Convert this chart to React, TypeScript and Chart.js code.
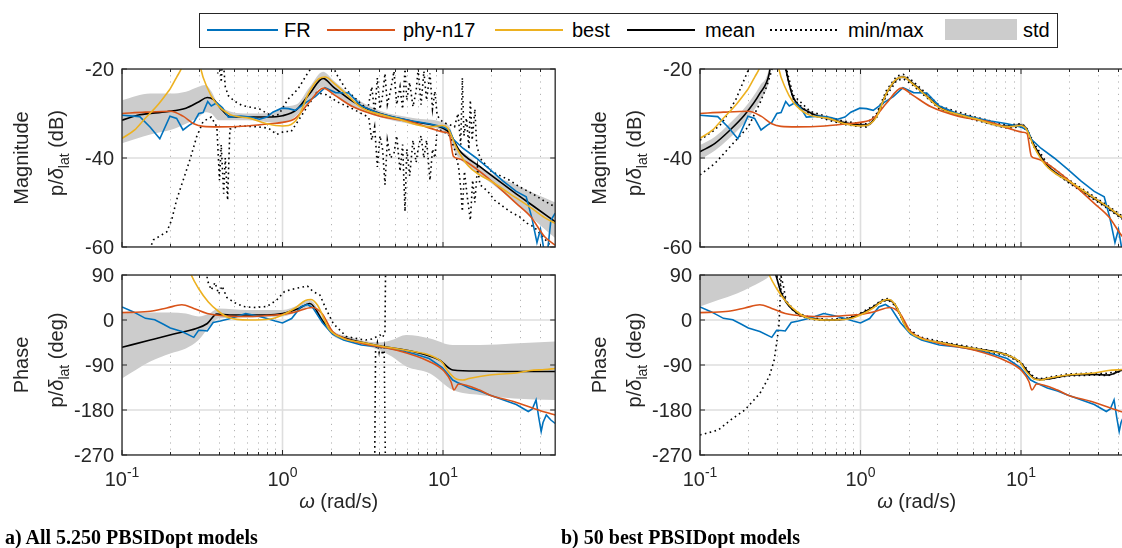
import React, { useEffect, useRef } from 'react';
import { Chart, registerables } from 'chart.js';

Chart.register(...registerables);

type P = [number, number];
type B = [number, number, number];

// ---------- axes / ticks ----------
const X_MIN = 0.1;
const X_MAX = 50;
const X_DECADES = [0.1, 1, 10];
const X_DECADE_EXP = ['-1', '0', '1'];
const X_MINOR_FACTORS = [2, 3, 4, 5, 6, 7, 8, 9];
const MAG_TICKS = [-20, -40, -60];
const PHASE_TICKS = [90, 0, -90, -180, -270];

// ---------- shared series (omega rad/s, value) ----------
const FR_MAG: P[] = [
  [0.1, -30.4], [0.129, -30.7], [0.15, -33.1], [0.172, -35.7], [0.199, -30.6], [0.219, -31.1], [0.24, -33.7],
  [0.263, -32.6], [0.28, -32], [0.301, -30], [0.32, -29.8], [0.342, -27.3], [0.36, -28.3], [0.39, -27.6],
  [0.423, -28.7], [0.46, -30.8], [0.55, -30.6], [0.63, -30.8], [0.72, -31.3], [0.8, -30.8], [0.87, -29.7],
  [0.99, -28.8], [1.09, -28.9], [1.2, -29.3], [1.39, -27.6], [1.6, -26.2], [1.84, -24.2], [2.14, -25.3],
  [2.59, -25.4], [3.1, -28.3], [4.0, -30], [5.07, -30.9], [6.45, -31.7], [8.2, -32.3], [9.94, -33],
  [11, -33.8], [11.6, -35.8], [13.3, -37.8], [16.1, -40], [19.5, -42.5], [23.7, -45.2], [28.6, -47.5],
  [33, -48.7], [35.8, -53.5], [38.5, -59], [40.5, -56], [42.5, -60.5], [44.8, -61], [47, -54], [50, -52.4],
];
const PHY_MAG: P[] = [
  [0.1, -30], [0.14, -29.7], [0.2, -29.5], [0.24, -30.6], [0.28, -32.3], [0.32, -32.9], [0.4, -33],
  [0.6, -32.8], [0.9, -32.2], [1.0, -32], [1.2, -31.1], [1.45, -27.7], [1.8, -24.3], [2.1, -25.8],
  [2.75, -28.5], [4.05, -30.6], [6.5, -32], [8.5, -33.4], [10.2, -34.2], [10.9, -34.5], [11.6, -39.6],
  [12.4, -40.1], [14, -40.9], [19.5, -44.8], [28.6, -50.2], [35.2, -53.2], [43, -57.7], [50, -59.6],
];
const BEST_MAG: P[] = [
  [0.1, -35.6], [0.12, -33.7], [0.137, -31.4], [0.153, -29.6], [0.167, -28.1], [0.19, -25.5], [0.2, -24.4],
  [0.22, -21.7], [0.236, -19.6], [0.265, -13], [0.29, -13], [0.31, -20], [0.34, -24.2], [0.38, -27.4],
  [0.47, -30.2], [0.63, -31.1], [0.8, -32.3], [1.0, -32.8], [1.09, -32.7], [1.26, -30.7], [1.45, -25.5],
  [1.68, -22.2], [1.85, -21.8], [2.08, -23.1], [2.47, -25.5], [3.14, -28.8], [4.05, -30.2], [5.07, -31.1],
  [8.2, -33], [9.94, -32.7], [10.7, -33.3], [12.1, -37.6], [14.3, -41.7], [16.9, -43.8], [19.5, -45],
  [26, -48], [34.7, -51], [43, -53.4], [50, -54.7],
];
const FR_PH: P[] = [
  [0.1, 26], [0.117, 16.7], [0.14, 3.3], [0.16, 0.5], [0.18, -8], [0.2, -16], [0.236, -23], [0.28, -34.7],
  [0.3, -20.5], [0.32, -21], [0.34, -22], [0.37, -5], [0.41, -2], [0.46, 2], [0.52, 7], [0.59, 13], [0.7, 8],
  [0.8, 3], [0.9, -2], [1.0, -6], [1.14, 3], [1.3, 26], [1.43, 31], [1.55, 24], [1.77, -5], [2.05, -28],
  [2.4, -40], [3.1, -50], [4.05, -54], [5.07, -59], [6.5, -67], [8.2, -77], [9.9, -95], [11.5, -120],
  [12.3, -125], [14.6, -136], [16.9, -142], [19.5, -150], [28.6, -169], [34, -183], [36, -178], [38, -160],
  [39.5, -195], [40.9, -223], [42, -205], [44, -190], [47, -200], [50, -207],
];
const PHY_PH: P[] = [
  [0.1, 14.7], [0.145, 17], [0.19, 24], [0.236, 30.5], [0.28, 23], [0.34, 13], [0.45, 8], [0.62, 7],
  [0.9, 10], [1.0, 11], [1.2, 16], [1.53, 25], [1.76, 13], [2.05, -23], [2.4, -36], [3.14, -47],
  [5.07, -60], [8.2, -83], [10.2, -103], [11.2, -123], [11.7, -140], [12.5, -128], [16.9, -140],
  [19.5, -150], [27.5, -163], [43, -184], [50, -190],
];
const BEST_PH: P[] = [
  [0.2, 220], [0.25, 120], [0.27, 90], [0.3, 63], [0.345, 36], [0.4, 17], [0.46, 5], [0.62, 0], [0.84, 2],
  [1.0, 10], [1.2, 24], [1.39, 39], [1.5, 41], [1.65, 30], [1.95, -18], [2.35, -36], [3.14, -45],
  [4.05, -52], [5.07, -57], [6.5, -63], [8.2, -70], [9.9, -85], [10.6, -100], [12.1, -118], [13.3, -120],
  [14.5, -117], [19.5, -110], [28.6, -106], [35, -101], [43, -99], [50, -97],
];

// ---------- a) all 5.250 models ----------
const MEAN_MAG_A: P[] = [
  [0.1, -31.5], [0.129, -30.3], [0.19, -29.6], [0.25, -28.8], [0.3, -27.4], [0.34, -26.4], [0.37, -26.8],
  [0.42, -29.2], [0.47, -30.7], [0.8, -30.8], [1.0, -30.5], [1.22, -29.2], [1.48, -25.5], [1.79, -22.1],
  [2.07, -24], [2.75, -27.3], [4.05, -30], [6.5, -31.8], [10, -33.3], [11, -34.4], [12.6, -38.2],
  [16.9, -41.9], [27.5, -47.6], [36.9, -50.9], [50, -54.3],
];
const STD_MAG_A: B[] = [
  [0.1, -36.7, -27], [0.15, -34.7, -25.5], [0.2, -33.7, -25.5], [0.25, -32.3, -25.1], [0.3, -30.8, -24],
  [0.33, -29.7, -23.6], [0.36, -30, -25], [0.4, -31.5, -28], [0.6, -31.5, -30], [0.9, -32, -29.7],
  [1.0, -32, -28.5], [1.22, -30.5, -28], [1.48, -27, -24], [1.79, -24, -20.6], [2.07, -25.5, -22.5],
  [2.75, -28.5, -26.2], [4, -30.8, -29.3], [6.5, -32.5, -31], [10, -34, -32], [11, -35.5, -33],
  [12, -39, -37], [14, -41.5, -39.2], [20, -45.7, -43.5], [30, -50.9, -46.4], [40, -55, -48.5], [50, -58, -50],
];
const MAX_MAG_A: P[] = [
  [0.1, -5], [0.36, -5], [0.385, -16], [0.395, -21], [0.405, -15], [0.415, -23], [0.425, -17], [0.44, -24],
  [0.46, -26], [0.5, -27.2], [0.56, -28.2], [0.72, -29], [0.86, -30.6], [0.95, -30.2], [1.08, -26.8],
  [1.25, -24.5], [1.43, -21], [1.55, -19.3], [1.8, -17], [2.0, -18.5], [2.2, -21.5], [2.5, -24.7],
  [3.06, -27.7], [3.4, -29], [3.6, -24], [3.75, -30], [3.9, -22], [4.05, -29], [4.2, -26], [4.35, -21],
  [4.5, -28], [4.7, -25], [4.95, -20.5], [5.15, -28], [5.4, -24], [5.6, -29], [5.8, -20], [5.95, -27],
  [6.2, -23], [6.5, -28.5], [6.8, -25], [7.0, -20], [7.3, -28], [7.6, -20.5], [7.9, -27], [8.1, -24],
  [8.3, -21], [8.6, -29], [8.9, -25], [9.2, -30.5], [10, -32], [11, -32.5], [11.8, -33], [12.4, -30],
  [12.9, -37], [13.2, -22], [13.5, -35], [14.0, -31], [14.5, -38], [14.8, -27], [15.2, -36], [15.8, -29],
  [16.2, -37], [17, -40], [20, -43], [26, -45], [30, -46.5], [36, -48], [42, -49.5], [50, -51],
];
const MIN_MAG_A: P[] = [
  [0.1, -75], [0.14, -63], [0.157, -58.4], [0.19, -56.6], [0.204, -53.9], [0.219, -49.4], [0.241, -44.9],
  [0.265, -40.4], [0.292, -35.2], [0.32, -31.8], [0.36, -30.8], [0.39, -33], [0.405, -45], [0.415, -37],
  [0.43, -48], [0.44, -40], [0.455, -49.5], [0.47, -33.5], [0.55, -32.8], [0.7, -33], [0.82, -33.3],
  [0.92, -34.7], [1.03, -34], [1.13, -34.1], [1.34, -30], [1.63, -25.3], [1.88, -25.8], [2.2, -27.4],
  [2.75, -29], [3.3, -30.5], [3.45, -31], [3.6, -36], [3.75, -33], [3.9, -42], [4.05, -35], [4.2, -38],
  [4.35, -46], [4.5, -36], [4.7, -40], [4.95, -39], [5.15, -35], [5.4, -43], [5.6, -37], [5.8, -52],
  [5.95, -38], [6.2, -44], [6.5, -36], [6.8, -41], [7.0, -38], [7.3, -35], [7.6, -40], [7.9, -36],
  [8.3, -45], [8.6, -38], [8.9, -40], [9.2, -33.5], [10, -34], [11, -35], [11.8, -38], [12.5, -42],
  [12.9, -47], [13.2, -52], [13.6, -43], [14.2, -49], [14.8, -54], [15.3, -45], [15.8, -50], [16.4, -42],
  [17, -46], [19, -47.5], [21, -49.5], [26, -52], [30, -53.2], [33.5, -54.7], [37, -55.5], [45, -59], [50, -61],
];
const MEAN_PH_A: P[] = [
  [0.1, -54.7], [0.15, -40], [0.21, -28], [0.29, -17], [0.34, -7], [0.39, 12], [0.47, 10], [0.8, 10],
  [1.0, 13], [1.26, 23], [1.48, 33], [1.79, -3], [2.07, -27], [2.5, -37], [4.05, -52], [6.5, -63],
  [9.5, -80], [11.5, -100], [16.9, -102], [27.5, -103], [50, -103],
];
const STD_PH_A: B[] = [
  [0.1, -117, 13], [0.15, -83, 15], [0.2, -67, 15], [0.25, -57, 13], [0.3, -40, 7], [0.35, -13, 13],
  [0.4, 3, 23], [0.6, 5, 20], [1.0, 7, 20], [1.26, 17, 30], [1.48, 27, 40], [1.79, -8, 3], [2.07, -32, -22],
  [2.5, -42, -32], [4, -60, -45], [4.8, -73, -40], [5.9, -93, -30], [8.3, -107, -37], [11.5, -140, -50],
  [17, -150, -50], [27.5, -157, -47], [50, -160, -43],
];
const MAX_PH_A: P[] = [
  [0.1, 150], [0.33, 150], [0.34, 80], [0.36, 60], [0.38, 75], [0.4, 52], [0.42, 68], [0.45, 45],
  [0.5, 35], [0.57, 27], [0.66, 25], [0.8, 27], [0.92, 40], [1.03, 57], [1.2, 63], [1.43, 68], [1.55, 57],
  [1.71, 50], [1.88, 20], [2.07, -7], [2.5, -33], [3.0, -38], [3.3, -40], [3.6, -38], [4.05, -30],
  [4.2, -35], [4.35, -25], [4.4, 150], [50, 150],
];
const MIN_PH_A: P[] = [
  [0.1, -300], [3.75, -300], [3.8, -60], [3.9, -45], [4.0, -65], [4.1, -50], [4.2, -70], [4.3, -55],
  [4.38, -300], [50, -300],
];

// ---------- b) 50 best models ----------
const MEAN_MAG_B: P[] = [
  [0.1, -38.6], [0.124, -36.7], [0.15, -34.1], [0.19, -30.3], [0.236, -25.5], [0.27, -21], [0.29, -13],
  [0.31, -12], [0.33, -17], [0.345, -20.5], [0.36, -23.5], [0.38, -26.3], [0.485, -29.8], [0.62, -31],
  [0.78, -32], [1.0, -32.6], [1.09, -32.6], [1.26, -30.5], [1.45, -25.5], [1.68, -22.3], [1.85, -21.8],
  [2.08, -23], [2.47, -25.4], [3.14, -28.7], [5.07, -31], [8.2, -32.9], [9.94, -32.6], [10.7, -33.2],
  [12.1, -37.2], [14.6, -41.7], [19.5, -45.1], [26, -48.1], [34.7, -51.1], [43, -53.5], [50, -55],
];
const STD_MAG_B: B[] = [
  [0.1, -40.4, -37.1], [0.124, -38.3, -35.2], [0.15, -35.8, -32.5], [0.19, -32, -28.7], [0.236, -27.2, -23.8],
  [0.27, -22.5, -19.5], [0.29, -15, -10], [0.31, -15, -10], [0.33, -17.8, -16.2], [0.345, -21.2, -19.8],
  [0.36, -24.1, -22.9], [0.38, -26.8, -25.8], [0.485, -30.2, -29.4], [0.62, -31.4, -30.6], [0.78, -32.4, -31.6],
  [1.0, -33, -32.2], [1.09, -33, -32.2], [1.26, -30.9, -30.1], [1.45, -25.9, -25.1], [1.68, -22.7, -21.9],
  [1.85, -22.2, -21.4], [2.08, -23.4, -22.6], [2.47, -25.8, -25], [3.14, -29.1, -28.3], [5.07, -31.4, -30.6],
  [8.2, -33.3, -32.5], [9.94, -33, -32.2], [10.7, -33.6, -32.8], [12.1, -37.6, -36.8], [14.6, -42.1, -41.3],
  [19.5, -45.5, -44.7], [26, -48.5, -47.7], [34.7, -51.5, -50.7], [43, -53.9, -53.1], [50, -55.4, -54.6],
];
const MAX_MAG_B: P[] = [
  [0.1, -36], [0.12, -34], [0.137, -32.2], [0.167, -26.9], [0.2, -20.2], [0.22, -15], [0.3, -10],
  [0.33, -16], [0.345, -19.8], [0.38, -25.8], [0.485, -29.5], [0.62, -30.7], [0.78, -31.7], [1.0, -32.3],
  [1.09, -32.3], [1.26, -30], [1.45, -24.8], [1.68, -21.6], [1.85, -21.2], [2.08, -22.5], [2.47, -24.9],
  [3.14, -28.4], [5.07, -30.7], [8.2, -32.6], [9.94, -32.3], [10.7, -32.9], [12.1, -36.8], [14.6, -41.3],
  [19.5, -44.7], [26, -47.7], [34.7, -50.7], [43, -53.1], [50, -54.6],
];
const MIN_MAG_B: P[] = [
  [0.1, -43.8], [0.124, -41.2], [0.15, -37.9], [0.2, -33], [0.236, -27.7], [0.26, -24], [0.28, -20.3],
  [0.3, -14], [0.32, -14], [0.345, -20.7], [0.38, -26.7], [0.485, -30.2], [0.62, -31.4], [0.78, -32.4],
  [1.0, -33], [1.09, -33], [1.26, -30.9], [1.45, -26], [1.68, -22.6], [1.85, -22.2], [2.08, -23.4],
  [2.47, -25.8], [3.14, -29.1], [5.07, -31.4], [8.2, -33.3], [9.94, -33], [10.7, -33.6], [12.1, -37.6],
  [14.6, -42], [19.5, -45.4], [26, -48.4], [34.7, -51.4], [43, -53.8], [50, -55.3],
];
const MEAN_PH_B: P[] = [
  [0.1, 170], [0.2, 150], [0.27, 125], [0.29, 100], [0.3, 85], [0.32, 55], [0.345, 35], [0.38, 20],
  [0.42, 10], [0.5, 3], [0.62, 0], [0.84, 3], [1.0, 12], [1.2, 26], [1.39, 39], [1.5, 40], [1.65, 29],
  [1.95, -17], [2.35, -36], [3.14, -45], [5.07, -57], [8.2, -70], [9.9, -85], [12.1, -117], [13.3, -119],
  [19.5, -111], [28.6, -109], [35, -110], [43, -100], [50, -98],
];
const STD_PH_B: B[] = [
  [0.1, 27, 250], [0.13, 40, 250], [0.17, 53, 250], [0.21, 67, 250], [0.26, 83, 250], [0.29, 95, 250],
  [0.3, 82, 90], [0.32, 52, 58], [0.345, 32, 38], [0.38, 18, 22], [0.42, 8, 12], [0.5, 1, 5], [0.62, -2, 2],
  [0.84, 1, 5], [1.0, 10, 14], [1.2, 24, 28], [1.39, 37, 41], [1.5, 38, 42], [1.65, 27, 31], [1.95, -19, -15],
  [2.35, -38, -34], [3.14, -47, -43], [5.07, -59, -55], [8.2, -72, -68], [9.9, -87, -83], [12.1, -119, -115],
  [13.3, -121, -117], [19.5, -113, -109], [28.6, -111, -107], [35, -112, -108], [43, -102, -98], [50, -100, -96],
];
const MAX_PH_B: P[] = [
  [0.1, 250], [0.3, 250], [0.31, 95], [0.32, 60], [0.345, 38], [0.38, 22], [0.42, 12], [0.5, 4],
  [0.62, 1], [0.84, 4], [1.0, 14], [1.2, 28], [1.39, 42], [1.5, 43], [1.65, 31], [1.95, -15],
  [2.35, -34], [3.14, -43], [5.07, -55], [8.2, -68], [9.9, -83], [12.1, -115], [13.3, -117], [19.5, -108],
  [28.6, -106], [35, -107], [43, -98], [50, -96],
];
const MIN_PH_B: P[] = [
  [0.1, -230], [0.13, -220], [0.155, -200], [0.19, -180], [0.236, -147], [0.27, -113], [0.29, -80],
  [0.3, -47], [0.31, -13], [0.315, 33], [0.32, 87], [0.33, 70], [0.345, 36], [0.38, 19], [0.42, 8],
  [0.5, 1], [0.62, -1], [0.84, 2], [1.0, 11], [1.2, 25], [1.39, 38], [1.5, 39], [1.65, 28], [1.95, -18],
  [2.35, -37], [3.14, -46], [5.07, -58], [8.2, -71], [9.9, -86], [12.1, -118], [13.3, -120], [19.5, -112],
  [28.6, -110], [35, -111], [43, -101], [50, -99],
];

// ---------- styling ----------
const C_FR = '#0072BD';
const C_PHY = '#D95319';
const C_BEST = '#EDB120';
const C_MEAN = '#000000';
const C_STD = '#CCCCCC';
const INK = '#262626';
const SANS = '"Liberation Sans", Arial, Helvetica, sans-serif';
const DOT: number[] = [1.6, 3.4];

type Seg = { t: string; f: string; dy?: number };

type PanelSpec = {
  left: number; top: number; w: number; h: number;
  pad: { left: number; top: number; right: number; bottom: number };
  yMin: number; yMax: number; yTicks: number[];
  title1: string; title2: Seg[];
  xLabels: boolean;
  mean: P[]; std: B[]; max: P[]; min: P[];
  fr: P[]; phy: P[]; best: P[];
};

function drawRot(ctx: CanvasRenderingContext2D, xb: number, cy: number, segs: Seg[]) {
  let total = 0;
  for (const s of segs) { ctx.font = s.f; total += ctx.measureText(s.t).width; }
  ctx.save();
  ctx.translate(xb, cy);
  ctx.rotate(-Math.PI / 2);
  ctx.textAlign = 'left';
  ctx.textBaseline = 'alphabetic';
  let x = -total / 2;
  for (const s of segs) {
    ctx.font = s.f;
    ctx.fillText(s.t, x, s.dy || 0);
    x += ctx.measureText(s.t).width;
  }
  ctx.restore();
}

function framePlugin(spec: PanelSpec) {
  return {
    id: 'frame',
    beforeDatasetsDraw(chart: any) {
      const { ctx, chartArea: a, scales } = chart;
      const xs = scales.x, ys = scales.y;
      ctx.save();
      ctx.beginPath();
      ctx.rect(a.left, a.top, a.right - a.left, a.bottom - a.top);
      ctx.clip();
      // minor x grid (dotted)
      ctx.strokeStyle = '#b4b4b4';
      ctx.lineWidth = 1;
      ctx.setLineDash([1.2, 5]);
      for (const d of X_DECADES) {
        for (const k of X_MINOR_FACTORS) {
          const v = d * k;
          if (v >= X_MAX) continue;
          const px = Math.round(xs.getPixelForValue(v)) + 0.5;
          ctx.beginPath(); ctx.moveTo(px, a.top); ctx.lineTo(px, a.bottom); ctx.stroke();
        }
      }
      ctx.setLineDash([]);
      // major grid
      ctx.strokeStyle = '#dedede';
      ctx.lineWidth = 1.6;
      for (const d of X_DECADES) {
        const px = xs.getPixelForValue(d);
        ctx.beginPath(); ctx.moveTo(px, a.top); ctx.lineTo(px, a.bottom); ctx.stroke();
      }
      for (const t of spec.yTicks) {
        const py = ys.getPixelForValue(t);
        ctx.beginPath(); ctx.moveTo(a.left, py); ctx.lineTo(a.right, py); ctx.stroke();
      }
      ctx.restore();
    },
    afterDatasetsDraw(chart: any) {
      const { ctx, chartArea: a, scales } = chart;
      const xs = scales.x, ys = scales.y;
      ctx.save();
      ctx.strokeStyle = INK;
      ctx.lineWidth = 1.3;
      ctx.strokeRect(a.left, a.top, a.right - a.left, a.bottom - a.top);
      // ticks
      ctx.lineWidth = 1;
      for (const d of X_DECADES) {
        const px = xs.getPixelForValue(d);
        ctx.beginPath();
        ctx.moveTo(px, a.bottom); ctx.lineTo(px, a.bottom - 5);
        ctx.moveTo(px, a.top); ctx.lineTo(px, a.top + 5);
        ctx.stroke();
        for (const k of X_MINOR_FACTORS) {
          const v = d * k;
          if (v >= X_MAX) continue;
          const qx = Math.round(xs.getPixelForValue(v)) + 0.5;
          ctx.beginPath();
          ctx.moveTo(qx, a.bottom); ctx.lineTo(qx, a.bottom - 3);
          ctx.moveTo(qx, a.top); ctx.lineTo(qx, a.top + 3);
          ctx.stroke();
        }
      }
      for (const t of spec.yTicks) {
        const py = ys.getPixelForValue(t);
        ctx.beginPath();
        ctx.moveTo(a.left, py); ctx.lineTo(a.left + 5, py);
        ctx.moveTo(a.right, py); ctx.lineTo(a.right - 5, py);
        ctx.stroke();
      }
      // y tick labels
      ctx.fillStyle = INK;
      ctx.font = `20px ${SANS}`;
      ctx.textAlign = 'right';
      ctx.textBaseline = 'middle';
      for (const t of spec.yTicks) {
        ctx.fillText(String(t), a.left - 8, ys.getPixelForValue(t) + 1);
      }
      // x tick labels
      if (spec.xLabels) {
        ctx.textAlign = 'left';
        ctx.textBaseline = 'alphabetic';
        X_DECADES.forEach((d, i) => {
          const px = xs.getPixelForValue(d);
          ctx.font = `20px ${SANS}`;
          const wb = ctx.measureText('10').width;
          ctx.font = `14px ${SANS}`;
          const ws = ctx.measureText(X_DECADE_EXP[i]).width;
          const x0 = px - (wb + ws) / 2;
          ctx.font = `20px ${SANS}`;
          ctx.fillText('10', x0, a.bottom + 31);
          ctx.font = `14px ${SANS}`;
          ctx.fillText(X_DECADE_EXP[i], x0 + wb, a.bottom + 22);
        });
        // x title
        const cx = (a.left + a.right) / 2;
        ctx.font = `italic 20px ${SANS}`;
        const w1 = ctx.measureText('\u03C9').width;
        ctx.font = `20px ${SANS}`;
        const w2 = ctx.measureText(' (rad/s)').width;
        const sx = cx - (w1 + w2) / 2;
        ctx.font = `italic 20px ${SANS}`;
        ctx.fillText('\u03C9', sx, a.bottom + 53);
        ctx.font = `20px ${SANS}`;
        ctx.fillText(' (rad/s)', sx + w1, a.bottom + 53);
      }
      // y titles
      const cy = (a.top + a.bottom) / 2;
      drawRot(ctx, a.left - 94, cy, [{ t: spec.title1, f: `20px ${SANS}` }]);
      drawRot(ctx, a.left - 59, cy - 5, spec.title2);
      ctx.restore();
    },
  };
}

function pts(d: P[]) {
  return d.map(([x, y]) => ({ x, y }));
}

function buildConfig(spec: PanelSpec): any {
  const curve = (label: string, d: P[], color: string, smooth: boolean) => ({
    label,
    data: pts(d),
    borderColor: color,
    backgroundColor: color,
    borderWidth: 1.6,
    pointRadius: 0,
    fill: false,
    tension: 0,
    cubicInterpolationMode: smooth ? 'monotone' : 'default',
  });
  const dotted = (label: string, d: P[]) => ({
    ...curve(label, d, '#000000', false),
    borderDash: DOT,
    borderWidth: 1.6,
  });
  const datasets = [
    curve('best', spec.best, C_BEST, true),
    curve('phy-n17', spec.phy, C_PHY, true),
    curve('FR', spec.fr, C_FR, false),
    curve('mean', spec.mean, C_MEAN, true),
    dotted('max', spec.max),
    dotted('min', spec.min),
    {
      label: 'std upper',
      data: spec.std.map(([x, , hi]) => ({ x, y: hi })),
      borderWidth: 0, borderColor: 'rgba(0,0,0,0)', pointRadius: 0, fill: false,
      cubicInterpolationMode: 'monotone',
    },
    {
      label: 'std',
      data: spec.std.map(([x, lo]) => ({ x, y: lo })),
      borderWidth: 0, borderColor: 'rgba(0,0,0,0)', pointRadius: 0,
      backgroundColor: C_STD, fill: '-1',
      cubicInterpolationMode: 'monotone',
    },
  ];
  return {
    type: 'line',
    data: { datasets },
    options: {
      animation: false,
      responsive: false,
      devicePixelRatio: 1,
      parsing: true,
      layout: { padding: spec.pad },
      plugins: { legend: { display: false }, tooltip: { enabled: false }, title: { display: false } },
      events: [],
      scales: {
        x: { type: 'logarithmic', min: X_MIN, max: X_MAX, display: false },
        y: { type: 'linear', min: spec.yMin, max: spec.yMax, display: false },
      },
    },
    plugins: [framePlugin(spec)],
  };
}

function Panel({ spec }: { spec: PanelSpec }) {
  const ref = useRef<HTMLCanvasElement>(null);
  useEffect(() => {
    const chart = new Chart(ref.current as HTMLCanvasElement, buildConfig(spec));
    return () => chart.destroy();
  }, []);
  return (
    <canvas
      ref={ref}
      width={spec.w}
      height={spec.h}
      style={{ position: 'absolute', left: spec.left, top: spec.top, width: spec.w, height: spec.h }}
    />
  );
}

const DEC = 160.5;
const PLOT_W = DEC * Math.log10(X_MAX / X_MIN);

const magTitle2: Seg[] = [
  { t: 'p/', f: `20px ${SANS}` },
  { t: '\u03B4', f: `italic 20px ${SANS}` },
  { t: 'lat', f: `14px ${SANS}`, dy: 6 },
  { t: ' (dB)', f: `20px ${SANS}` },
];
const phTitle2: Seg[] = [
  { t: 'p/', f: `20px ${SANS}` },
  { t: '\u03B4', f: `italic 20px ${SANS}` },
  { t: 'lat', f: `14px ${SANS}`, dy: 6 },
  { t: ' (deg)', f: `20px ${SANS}` },
];

function spec(col: 0 | 1, row: 0 | 1): PanelSpec {
  const left = col === 0 ? 0 : 570;
  const plotLeft = col === 0 ? 122 : 700;
  const w = col === 0 ? 570 : 580;
  const padLeft = plotLeft - left;
  const padRight = w - padLeft - PLOT_W;
  if (row === 0) {
    return {
      left, top: 55, w, h: 205,
      pad: { left: padLeft, top: 14, right: padRight, bottom: 13 },
      yMin: -60, yMax: -20, yTicks: MAG_TICKS,
      title1: 'Magnitude', title2: magTitle2, xLabels: false,
      mean: col === 0 ? MEAN_MAG_A : MEAN_MAG_B,
      std: col === 0 ? STD_MAG_A : STD_MAG_B,
      max: col === 0 ? MAX_MAG_A : MAX_MAG_B,
      min: col === 0 ? MIN_MAG_A : MIN_MAG_B,
      fr: FR_MAG, phy: PHY_MAG, best: BEST_MAG,
    };
  }
  return {
    left, top: 262, w, h: 270,
    pad: { left: padLeft, top: 13, right: padRight, bottom: 77 },
    yMin: -270, yMax: 90, yTicks: PHASE_TICKS,
    title1: 'Phase', title2: phTitle2, xLabels: true,
    mean: col === 0 ? MEAN_PH_A : MEAN_PH_B,
    std: col === 0 ? STD_PH_A : STD_PH_B,
    max: col === 0 ? MAX_PH_A : MAX_PH_B,
    min: col === 0 ? MIN_PH_A : MIN_PH_B,
    fr: FR_PH, phy: PHY_PH, best: BEST_PH,
  };
}

const legendText: React.CSSProperties = {
  position: 'absolute', top: 18, font: `20px ${SANS}`, lineHeight: '24px', color: '#000', whiteSpace: 'nowrap',
};
const LEGEND_ITEMS: { label: string; x0: number; x1: number; tx: number; kind: 'line' | 'dot' | 'patch'; color: string }[] = [
  { label: 'FR', x0: 207, x1: 278, tx: 284, kind: 'line', color: C_FR },
  { label: 'phy-n17', x0: 327, x1: 395, tx: 403, kind: 'line', color: C_PHY },
  { label: 'best', x0: 495, x1: 563, tx: 572, kind: 'line', color: C_BEST },
  { label: 'mean', x0: 627, x1: 695, tx: 705, kind: 'line', color: C_MEAN },
  { label: 'min/max', x0: 770, x1: 838, tx: 848, kind: 'dot', color: '#000' },
  { label: 'std', x0: 945, x1: 1017, tx: 1023, kind: 'patch', color: C_STD },
];

export default function App() {
  return (
    <div style={{ position: 'fixed', left: 0, top: 0, width: 1122, height: 548, overflow: 'hidden', background: '#fff' }}>
      <div style={{ position: 'absolute', left: 199, top: 13, width: 859, height: 35, border: `1.5px solid ${INK}`, boxSizing: 'border-box' }} />
      {LEGEND_ITEMS.map((it) => (
        <React.Fragment key={it.label}>
          {it.kind === 'patch' ? (
            <div style={{ position: 'absolute', left: it.x0, top: 19, width: it.x1 - it.x0, height: 21, background: it.color }} />
          ) : (
            <div style={{
              position: 'absolute', left: it.x0, top: 29, width: it.x1 - it.x0, height: 2,
              background: it.kind === 'dot'
                ? `repeating-linear-gradient(to right, ${it.color} 0px, ${it.color} 1.6px, transparent 1.6px, transparent 5px)`
                : it.color,
            }} />
          )}
          <div style={{ ...legendText, left: it.tx }}>{it.label}</div>
        </React.Fragment>
      ))}
      <Panel spec={spec(0, 0)} />
      <Panel spec={spec(0, 1)} />
      <Panel spec={spec(1, 0)} />
      <Panel spec={spec(1, 1)} />
      <div style={{ position: 'absolute', left: 5, top: 526, font: 'bold 20px "Liberation Serif", "Times New Roman", serif', lineHeight: '22px', color: '#000', whiteSpace: 'nowrap' }}>
        a) All 5.250 PBSIDopt models
      </div>
      <div style={{ position: 'absolute', left: 561, top: 526, font: 'bold 20px "Liberation Serif", "Times New Roman", serif', lineHeight: '22px', color: '#000', whiteSpace: 'nowrap' }}>
        b) 50 best PBSIDopt models
      </div>
    </div>
  );
}
